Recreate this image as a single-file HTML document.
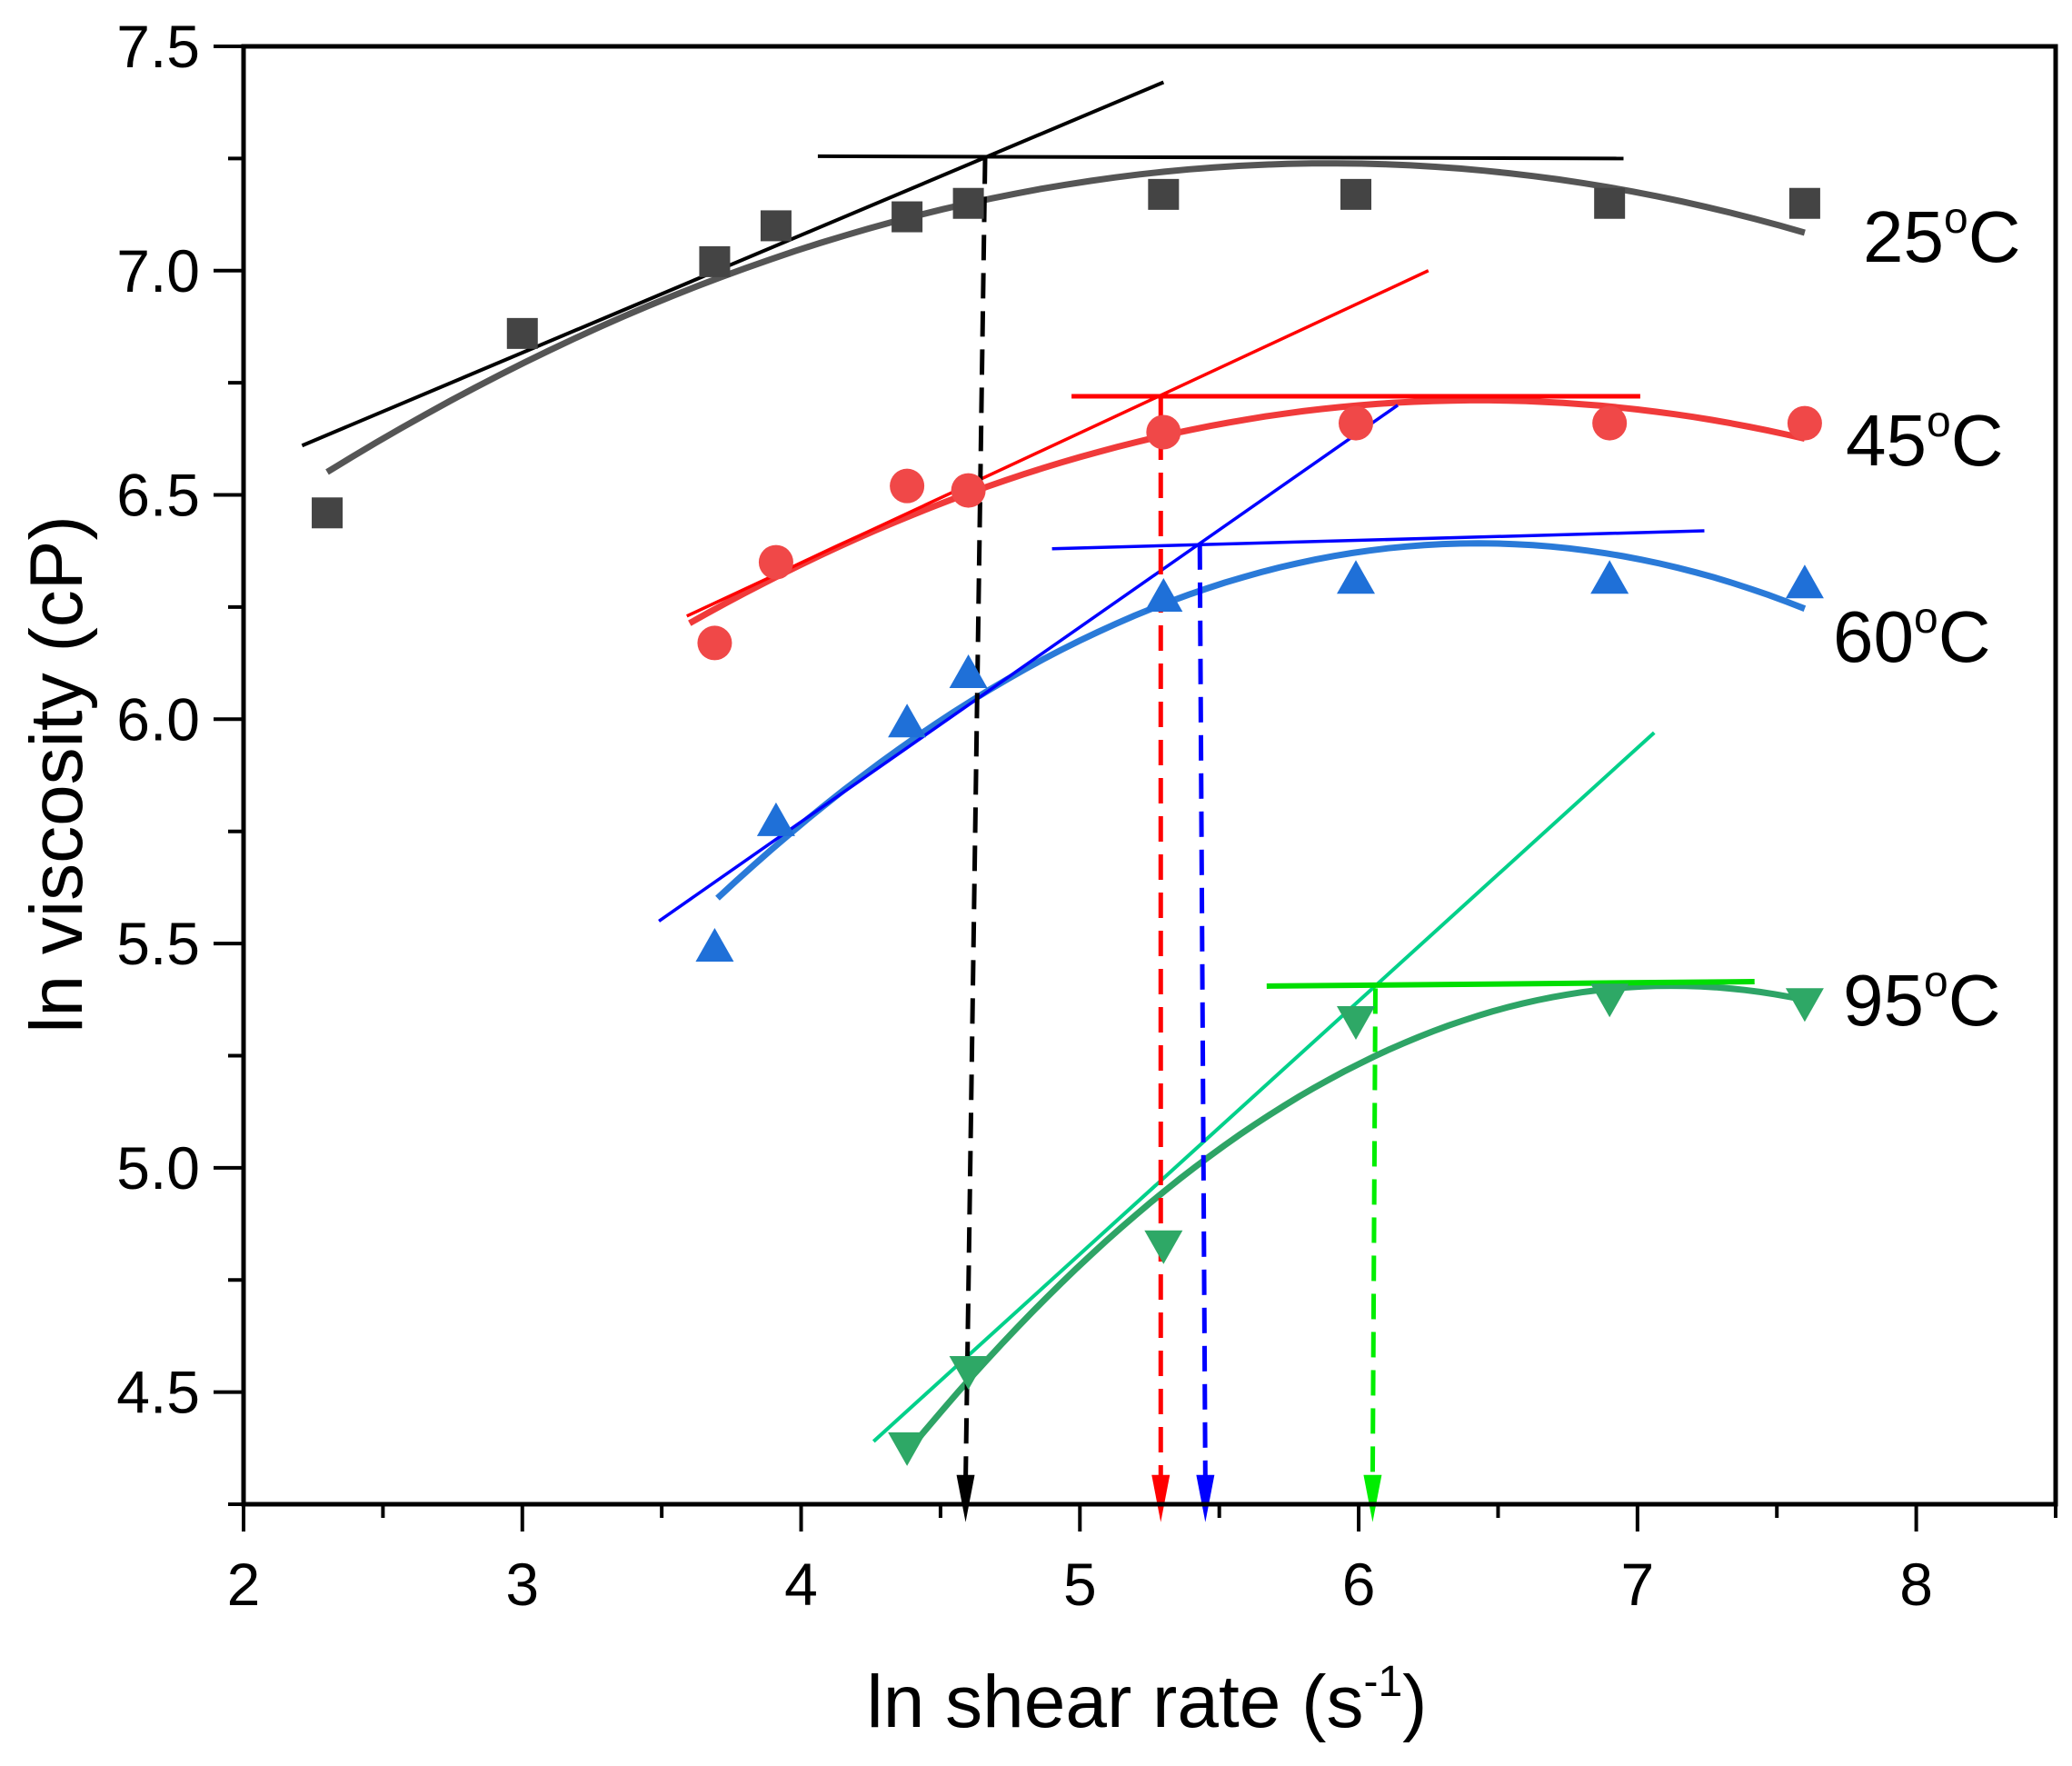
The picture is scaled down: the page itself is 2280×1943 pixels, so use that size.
<!DOCTYPE html>
<html><head><meta charset="utf-8"><style>
html,body{margin:0;padding:0;background:#fff;}
svg text{font-family:"Liberation Sans",sans-serif;}
</style></head><body>
<svg id="chart" width="2280" height="1938" viewBox="0 0 2280 1938" xmlns="http://www.w3.org/2000/svg">
<g id="marks"></g>
<g id="axes"></g>
<text transform="translate(90,852) rotate(-90)" text-anchor="middle" font-size="82">ln viscosity (cP)</text>
<text x="1262" y="1900" text-anchor="middle" font-size="82">ln shear rate (s<tspan dy="-34" font-size="48">-1</tspan><tspan dy="34">)</tspan></text>
<text x="2050" y="288" font-size="80">25<tspan dy="-32" font-size="48">o</tspan><tspan dy="32">C</tspan></text>
<text x="2031" y="512" font-size="80">45<tspan dy="-32" font-size="48">o</tspan><tspan dy="32">C</tspan></text>
<text x="2017" y="728" font-size="80">60<tspan dy="-32" font-size="48">o</tspan><tspan dy="32">C</tspan></text>
<text x="2028" y="1128" font-size="80">95<tspan dy="-32" font-size="48">o</tspan><tspan dy="32">C</tspan></text>
</svg>
<script>
const xTicks=[2,3,4,5,6,7,8];
const yTicks=[4.5,5.0,5.5,6.0,6.5,7.0,7.5];
const x25=[2.3,3.0,3.69,3.91,4.38,4.6,5.3,5.99,6.9,7.6];
const y25=[6.46,6.86,7.02,7.10,7.12,7.15,7.17,7.17,7.15,7.15];
const x45=[3.69,3.91,4.38,4.6,5.3,5.99,6.9,7.6];
const y45=[6.17,6.35,6.52,6.51,6.64,6.66,6.66,6.66];
const x60=[3.69,3.91,4.38,4.6,5.3,5.99,6.9,7.6];
const y60=[5.49,5.77,5.99,6.10,6.27,6.31,6.31,6.30];
const x95=[4.38,4.6,5.3,5.99,6.9,7.6];
const y95=[4.38,4.55,4.83,5.33,5.38,5.37];
// tangent lines [x1,y1,x2,y2]
const tan25=[2.21,6.61,5.30,7.42], hor25=[4.06,7.255,6.95,7.25];
const tan45=[3.59,6.23,6.25,7.0], hor45=[4.97,6.72,7.01,6.72];
const tan60=[3.49,5.55,6.14,6.70], hor60=[4.90,6.38,7.24,6.42];
const tan95=[4.26,4.39,7.06,5.97], hor95=[5.67,5.405,7.42,5.415];
// dashed arrows [xTop,yTop,xBottom]
const arr25=[4.66,7.25,4.59], arr45=[5.29,6.72,5.29], arr60=[5.43,6.39,5.45], arr95=[6.06,5.40,6.05];

const L=268,R=2262,T=51,B=1655,X0=2,X1=8.5,Y0=4.25,Y1=7.5;
const sx=v=>L+(v-X0)/(X1-X0)*(R-L);
const sy=v=>B-(v-Y0)/(Y1-Y0)*(B-T);
const NS="http://www.w3.org/2000/svg";
const marks=document.getElementById('marks'),axes=document.getElementById('axes');
function mk(tag,attrs,parent){const e=document.createElementNS(NS,tag);for(const k in attrs)e.setAttribute(k,attrs[k]);parent.appendChild(e);return e;}

function fitQuad(xs,ys){let S=[0,0,0,0,0],T2=[0,0,0];for(let i=0;i<xs.length;i++){let p=1;for(let k=0;k<5;k++){S[k]+=p;if(k<3)T2[k]+=p*ys[i];p*=xs[i];}}
 const A=[[S[0],S[1],S[2],T2[0]],[S[1],S[2],S[3],T2[1]],[S[2],S[3],S[4],T2[2]]];
 for(let i=0;i<3;i++){for(let j=i+1;j<3;j++){const f=A[j][i]/A[i][i];for(let k=i;k<4;k++)A[j][k]-=f*A[i][k];}}
 const c=[0,0,0];for(let i=2;i>=0;i--){let s=A[i][3];for(let k=i+1;k<3;k++)s-=A[i][k]*c[k];c[i]=s/A[i][i];}return c;}
function curve(xs,ys,xa,xb,color,name){const c=fitQuad(xs,ys);let d='';for(let i=0;i<=60;i++){const x=xa+(xb-xa)*i/60;const y=c[0]+c[1]*x+c[2]*x*x;d+=(i?'L':'M')+sx(x).toFixed(1)+','+sy(y).toFixed(1);}
 const p=mk('path',{d:d,fill:'none',stroke:color,'stroke-width':7},marks);
 
 }
function line(a,color,w,name){const l=mk('line',{x1:sx(a[0]),y1:sy(a[1]),x2:sx(a[2]),y2:sy(a[3]),stroke:color,'stroke-width':w},marks);
 
 }
function arrow(a,color,name){const g=mk('g',{},marks);
 
 
 const xb=sx(a[2]),tip=sy(4.21);
 mk('line',{x1:sx(a[0]),y1:sy(a[1]),x2:xb,y2:tip-45,stroke:color,'stroke-width':5,'stroke-dasharray':'28,14'},g);
 mk('path',{d:`M${xb-10},${tip-52}L${xb+10},${tip-52}L${xb},${tip}Z`,fill:color},g);}
function points(xs,ys,shape,color,name){xs.forEach((x,i)=>{const cx=sx(x),cy=sy(ys[i]);let e;
 if(shape==='sq')e=mk('rect',{x:cx-17,y:cy-17,width:34,height:34,fill:color},marks);
 else if(shape==='ci')e=mk('circle',{cx:cx,cy:cy,r:19,fill:color},marks);
 else if(shape==='up')e=mk('path',{d:`M${cx},${cy-22}L${cx+21},${cy+15}L${cx-21},${cy+15}Z`,fill:color},marks);
 else e=mk('path',{d:`M${cx},${cy+22}L${cx+21},${cy-15}L${cx-21},${cy-15}Z`,fill:color},marks);
 
 });}

curve(x25,y25,2.3,7.6,'#555555','fit-curve-25c');
curve(x45,y45,3.6,7.6,'#f03a3a','fit-curve-45c');
curve(x60,y60,3.7,7.6,'#2a7ad8','fit-curve-60c');
curve(x95,y95,4.4,7.6,'#2ea466','fit-curve-95c');
line(tan25,'#000',4,'tangent-25c');line(hor25,'#000',4,'plateau-25c');
line(tan45,'#ff0000',3.5,'tangent-45c');line(hor45,'#ff0000',5,'plateau-45c');
line(tan60,'#0000ff',3.5,'tangent-60c');line(hor60,'#0000ff',3.5,'plateau-60c');
line(tan95,'#00d08a',4,'tangent-95c');line(hor95,'#00dd00',6,'plateau-95c');
arrow(arr25,'#000','arrow-25c');arrow(arr45,'#ff0000','arrow-45c');arrow(arr60,'#0000ff','arrow-60c');arrow(arr95,'#00ee00','arrow-95c');
points(x25,y25,'sq','#444444','point-25c');
points(x45,y45,'ci','#f04848','point-45c');
points(x60,y60,'up','#1f70d8','point-60c');
points(x95,y95,'dn','#2ea866','point-95c');

const fr=mk('rect',{x:L,y:T,width:R-L,height:B-T,fill:'none',stroke:'#000','stroke-width':5},axes);


for(let v=2;v<=8.5001;v+=0.5){const x=sx(v),maj=Math.abs(v-Math.round(v))<1e-6;mk('line',{x1:x,y1:B,x2:x,y2:B+(maj?30:15),stroke:'#000','stroke-width':4},axes);}
for(let v=4.25;v<=7.5001;v+=0.25){const y=sy(v),maj=Math.abs(v*2-Math.round(v*2))<1e-6;mk('line',{x1:L,y1:y,x2:L-(maj?33:17),y2:y,stroke:'#000','stroke-width':4},axes);}
xTicks.forEach(v=>{const t=mk('text',{x:sx(v),y:1766,'text-anchor':'middle','font-size':66},axes);t.textContent=v;
 
 });
yTicks.forEach(v=>{const t=mk('text',{x:220,y:sy(v)+23,'text-anchor':'end','font-size':66},axes);t.textContent=v.toFixed(1);
 
 });
</script>
</body></html>
